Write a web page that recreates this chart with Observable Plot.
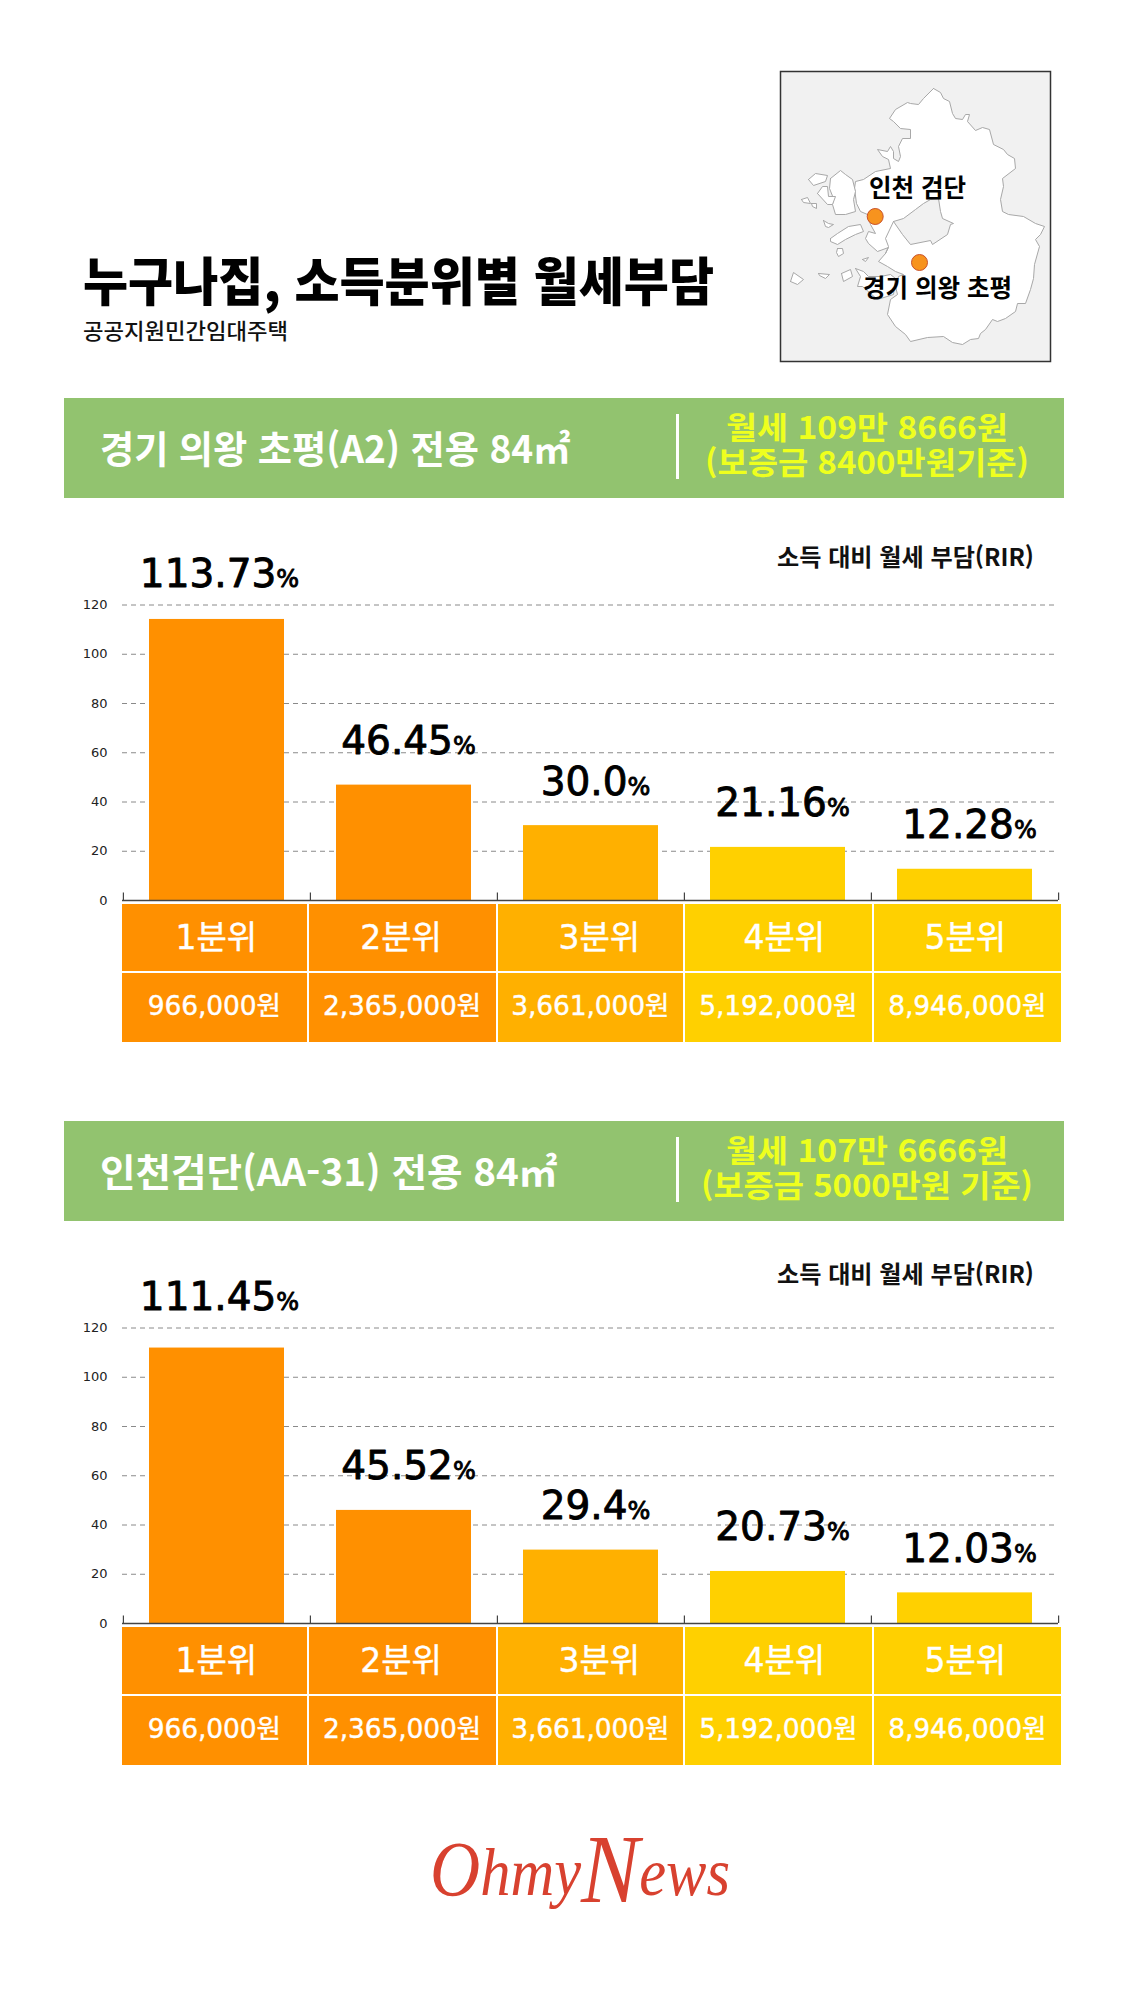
<!DOCTYPE html>
<html lang="ko">
<head>
<meta charset="utf-8">
<script src="https://cdn.jsdelivr.net/npm/d3@7"></script>
<script src="https://cdn.jsdelivr.net/npm/@observablehq/plot@0.6"></script>
<style>
html,body{margin:0;padding:0;background:#fff}
#page{position:relative;width:1125px;height:2000px;overflow:hidden;background:#fff}
.abs{position:absolute;white-space:nowrap;line-height:1;transform-origin:0 50%}
.cell{position:absolute;display:flex;align-items:center;justify-content:center;color:#fff;white-space:nowrap;line-height:1;font-family:"DejaVu Sans","Noto Sans CJK KR",sans-serif;-webkit-text-stroke:0.4px #fff}
svg{overflow:visible}
</style>
</head>
<body>
<div id="page"></div>
<script>
// ---------- data ----------
const quintiles = ["1분위", "2분위", "3분위", "4분위", "5분위"];
const incomes = ["966,000원", "2,365,000원", "3,661,000원", "5,192,000원", "8,946,000원"];
const colors = ["#FF9000", "#FF9000", "#FFB000", "#FFD000", "#FFD000"];
const rirUiwang = [113.73, 46.45, 30.0, 21.16, 12.28];
const rirLabelsUiwang = ["113.73%", "46.45%", "30.0%", "21.16%", "12.28%"];
const rirGeomdan = [111.45, 45.52, 29.4, 20.73, 12.03];
const rirLabelsGeomdan = ["111.45%", "45.52%", "29.4%", "20.73%", "12.03%"];
const yTicks = [0, 20, 40, 60, 80, 100, 120];

// map outlines (map units)
const mainland = [[153,17],[160,21],[163,27],[169,30],[172,42],[175,47],[182,48],[185,43],[189,43],[187,50],[195,59],[202,56],[209,58],[213,73],[223,78],[227,83],[234,87],[235,97],[222,107],[223,115],[220,128],[222,140],[228,143],[243,145],[255,152],[264,155],[260,163],[255,168],[259,175],[254,193],[253,207],[250,218],[245,232],[237,232],[235,240],[225,247],[217,250],[212,248],[205,258],[200,262],[198,267],[190,268],[182,273],[172,271],[163,265],[147,266],[130,270],[125,263],[115,255],[107,243],[110,228],[117,223],[115,215],[118,205],[123,203],[115,200],[107,195],[98,190],[105,182],[108,176],[97,180],[88,172],[85,167],[88,160],[95,162],[90,153],[87,143],[80,140],[76,132],[74,117],[75,110],[83,108],[95,100],[110,97],[108,88],[102,85],[97,78],[107,80],[110,75],[113,80],[113,87],[118,90],[120,85],[118,75],[122,67],[130,67],[130,58],[120,57],[113,50],[109,47],[115,38],[127,31],[130,32],[138,33],[143,27]];
const seoul = [[113,150],[123,147],[135,138],[143,132],[150,128],[158,127],[160,140],[162,147],[173,152],[170,153],[167,163],[152,173],[150,169],[130,173],[122,163]];
const ganghwa = [[50,107],[60,99],[65,103],[72,108],[75,120],[73,128],[75,140],[65,143],[55,143],[52,133],[53,127],[49,117]];
const gyodong = [[28,108],[35,102],[47,104],[45,110],[33,114]];
const seokmo = [[37,122],[42,115],[47,115],[48,125],[55,125],[52,133],[47,133]];
const yeongjong = [[50,167],[57,162],[68,155],[80,153],[83,160],[75,163],[65,168],[57,173],[50,170]];
const daebu = [[75,197],[83,200],[88,205],[100,205],[110,203],[115,207],[113,223],[97,228],[82,215],[77,215],[80,205]];
const islets = [
  [[21,128],[27,126],[30,132],[23,131]],
  [[31,132],[36,132],[36,137],[32,135]],
  [[57,177],[62,177],[63,182],[58,185],[56,181]],
  [[43,149],[48,152],[53,153],[48,156],[45,155]],
  [[82,188],[88,186],[85,190]],
  [[10,210],[13,201],[23,208],[17,213]],
  [[38,202],[49,203],[45,207],[39,204]],
  [[61,202],[70,198],[72,205],[63,210]]
];
const bucheonBorder = [[113,150],[105,167],[108,175],[105,182]];
const mapSites = [{name:"인천 검단", u:94.7, v:145, lu:137, lv:118}, {name:"경기 의왕 초평", u:139, v:191, lu:157, lv:218}];

// ---------- layout ----------
const page = document.getElementById("page");
const KR = '"Noto Sans CJK KR",sans-serif';
const chartOffset = 723;

function fit(text, x1, x2, cy, size, weight, color, family, build){
  const el = document.createElement("div");
  el.className = "abs";
  el.style.cssText = `font-family:${family||KR};font-size:${size}px;font-weight:${weight};color:${color};left:${x1}px;top:${cy-size/2}px`;
  if (build) build(el); else el.textContent = text;
  page.appendChild(el);
  const w = el.getBoundingClientRect().width;
  el.style.transform = `scaleX(${(x2-x1)/w})`;
  return el;
}
function box(x,y,w,h,bg){
  const el=document.createElement("div");
  el.style.cssText=`position:absolute;left:${x}px;top:${y}px;width:${w}px;height:${h}px;background:${bg}`;
  page.appendChild(el);
}

function banner(top, left, lx2, line1, l1x, line2, l2x){
  box(64, top, 1000, 100, "#92C36F");
  box(676, top+16, 3, 65, "#fff");
  fit(left, 99.5, lx2, top+49, 38, 700, "#fff");
  fit(line1, l1x[0], l1x[1], top+27, 31, 700, "#EEFF1E");
  fit(line2, l2x[0], l2x[1], top+62.5, 31, 700, "#EEFF1E");
}

function chart(top, values, labels, firstDy){
  const rows = quintiles.map((q,i)=>({q, v:values[i], label:labels[i], color:colors[i]}));
  const halfBand = 93.6;
  const svg = Plot.plot({
    width:1125, height:380,
    marginLeft:122, marginRight:67, marginTop:64.5, marginBottom:20,
    style:{background:"transparent", overflow:"visible"},
    x:{domain:quintiles, axis:null, padding:0},
    y:{domain:[0,120], axis:null},
    marks:[
      Plot.ruleY(yTicks.slice(1), {y:d=>d, stroke:"#8a8a8a", strokeWidth:1, strokeDasharray:"5 4", insetRight:4, strokeOpacity:1}),
      Plot.barY(rows, {x:"q", y:"v", fill:"color", insetLeft:26, insetRight:26, insetTop:-1}),
      Plot.ruleX(quintiles, {x:d=>d, y1:0, y2:3, dx:-halfBand, stroke:"#444", strokeWidth:1.2}),
      Plot.ruleX(quintiles.slice(-1), {x:d=>d, y1:0, y2:3, dx:halfBand, stroke:"#444", strokeWidth:1.2}),
      Plot.ruleY([0], {stroke:"#444", strokeWidth:1.5}),
      Plot.axisY({ticks:yTicks, tickSize:0, tickPadding:15, anchor:"left", label:null, fontSize:13, fontFamily:"DejaVu Sans", fill:"#222"}),
      Plot.text(rows.slice(0,1), {x:"q", y:"v", text:"label", dy:firstDy, dx:2.5, lineAnchor:"bottom", fontSize:39, fontFamily:"DejaVu Sans", fill:"#000", stroke:"#000", strokeWidth:0.9}),
      Plot.text(rows.slice(1), {x:"q", y:"v", text:"label", dy:-32, dx:4.5, lineAnchor:"bottom", fontSize:39, fontFamily:"DejaVu Sans", fill:"#000", stroke:"#000", strokeWidth:0.9})
    ]
  });
  svg.style.position="absolute"; svg.style.left="0"; svg.style.top=top+"px";
  d3.select(svg).selectAll('g[aria-label="text"] text').each(function(){
    const t=this.textContent;
    this.textContent=t.slice(0,-1);
    d3.select(this).append("tspan").attr("font-size",24).text("%");
  });
  page.appendChild(svg);
}

function table(top){
  const edges=[122,308.5,497.5,685,873.5,1061];
  const shift=[2,-1,9,6,-2];
  const rowY=[[0,67],[69,138]];
  quintiles.forEach((q,i)=>{
    const x=edges[i], w=edges[i+1]-edges[i]-(i<4?2:0);
    [[q,33],[incomes[i],26.5]].forEach(([t,fs],r)=>{
      const c=document.createElement("div");
      c.className="cell";
      c.style.cssText=`left:${x}px;top:${top+rowY[r][0]}px;width:${w}px;height:${rowY[r][1]-rowY[r][0]}px;background:${colors[i]};font-size:${fs}px;font-weight:400;letter-spacing:${r?-0.1:0}px`;
      const s=document.createElement("span");
      s.textContent=t;
      s.style.cssText=`position:relative;left:${r?0:shift[i]}px;top:${r?-1:0}px`;
      c.appendChild(s);
      page.appendChild(c);
    });
  });
}

// ---------- header ----------
fit("누구나집, 소득분위별 월세부담", 83, 714, 279, 52, 900, "#000");
fit("공공지원민간임대주택", 83, 288, 329, 22, 500, "#111");

// ---------- map ----------
{
  const shapes = [mainland, ganghwa, gyodong, seokmo, yeongjong, daebu, ...islets];
  const outline = (pts, id)=>pts.concat([pts[0]]).map(([u,v])=>({u,v,id}));
  const land = shapes.flatMap((s,i)=>outline(s,i));
  const mapPlot = Plot.plot({
    width:270, height:290, margin:0,
    style:{background:"transparent", overflow:"visible"},
    x:{domain:[0,270], range:[0,270], axis:null},
    y:{domain:[0,290], range:[0,290], axis:null},
    marks:[
      Plot.frame({fill:"#F1F1F1", stroke:"#333", strokeWidth:1.5}),
      Plot.line(land, {x:"u", y:"v", z:"id", fill:"#fff", stroke:"#a8a8a8", strokeWidth:1, curve:"linear"}),
      Plot.line(outline(seoul,"s"), {x:"u", y:"v", z:"id", fill:"#F1F1F1", stroke:"#a8a8a8", strokeWidth:1}),
      Plot.line(bucheonBorder.map(([u,v])=>({u,v})), {x:"u", y:"v", stroke:"#a8a8a8", strokeWidth:1}),
      Plot.dot(mapSites, {x:"u", y:"v", r:8, fill:"#F7931E", stroke:"#C9512B", strokeWidth:1}),
      Plot.text(mapSites, {x:"lu", y:"lv", text:"name", fontSize:24.5, fontWeight:600, fontFamily:"Noto Sans CJK KR", fill:"#000"})
    ]
  });
  mapPlot.style.position="absolute"; mapPlot.style.left="780px"; mapPlot.style.top="70.5px";
  page.appendChild(mapPlot);
}

// ---------- section 1 ----------
banner(398, "경기 의왕 초평(A2) 전용 84㎡", 570, "월세 109만 8666원", [726,1008], "(보증금 8400만원기준)", [705,1029]);
fit("소득 대비 월세 부담(RIR)", 777, 1034, 556, 24, 600, "#111");
chart(540, rirUiwang, rirLabelsUiwang, -33);
table(903.5);

// ---------- section 2 ----------
banner(1121, "인천검단(AA-31) 전용 84㎡", 557, "월세 107만 6666원", [726,1008], "(보증금 5000만원 기준)", [701,1033]);
fit("소득 대비 월세 부담(RIR)", 777, 1034, 1272.5, 24, 600, "#111");
chart(540+chartOffset, rirGeomdan, rirLabelsGeomdan, -39);
table(903.5+chartOffset);

// ---------- logo ----------
fit("OhmyNews", 430, 730, 1847, 68, 400, "#D8412F", '"Liberation Serif",serif', el=>{
  el.style.fontStyle="italic";
  [["O",78,0],["hmy",68,0],["N",98,7],["ews",68,0]].forEach(([t,fs,drop])=>{
    const s=document.createElement("span");
    s.textContent=t;
    s.style.cssText=`font-size:${fs}px;position:relative;top:${drop}px`;
    el.appendChild(s);
  });
});
</script>
</body>
</html>
